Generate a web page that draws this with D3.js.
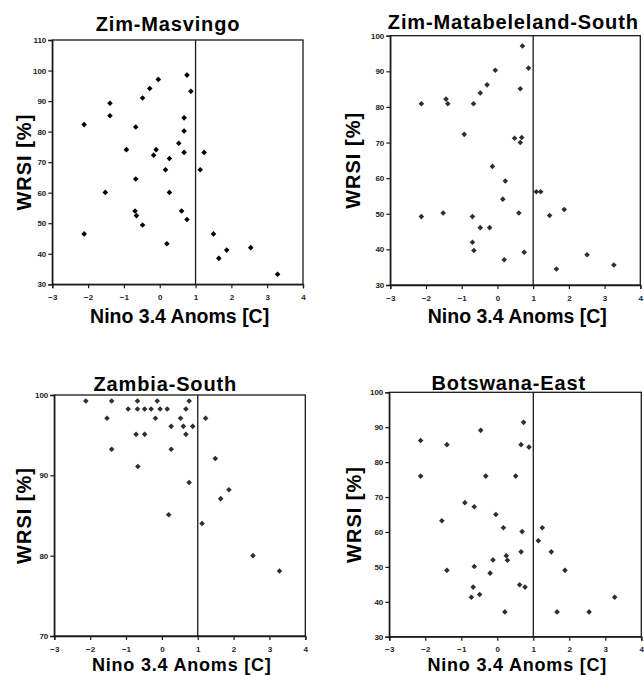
<!DOCTYPE html>
<html>
<head>
<meta charset="utf-8">
<script src="https://cdn.jsdelivr.net/npm/d3@7"></script>
<style>
  body { margin: 0; background: #fff; }
  text { font-family: "Liberation Sans", Arial, sans-serif; }
</style>
</head>
<body>
<div id="chart"></div>
<script>
// x axis ticks shared by every panel
const ninoTicks = [-3, -2, -1, 0, 1, 2, 3, 4];

// Zim-Masvingo
const masvingoNino = [-2.11, -1.39, -1.39, -1.52, -0.93, -0.67, -0.67, -0.48, -0.28, -0.04, -0.10, -0.17, 0.16, 0.27, 0.27, 0.53, 0.68, 0.68, 0.68, 0.76, 0.87, 1.13, 1.24,
  -2.11, -0.69, -0.65, -0.48, 0.20, 0.61, 0.76, 1.50, 1.65, 1.87, 2.54, 3.29];
const masvingoWrsi = [82.3, 89.3, 85.2, 60.1, 74.1, 81.5, 64.5, 91.0, 94.1, 97.1, 74.1, 72.3, 67.5, 71.2, 60.1, 76.2, 84.5, 80.2, 73.2, 98.5, 93.2, 67.5, 73.2,
  46.5, 54.0, 52.5, 49.4, 43.3, 54.0, 51.2, 46.5, 38.5, 41.2, 42.0, 33.3];
const masvingoTicks = [30, 40, 50, 60, 70, 80, 90, 100, 110];

// Zim-Matabeleland-South
const mataNino = [-2.13, -1.44, -1.39, -0.93, -0.67, -0.48, -0.29, -0.06, -0.14, 0.22, 0.15, 0.48, 0.64, 0.64, 0.68, 0.70, 0.87, 1.09, 1.21,
  -2.13, -1.52, -0.70, -0.48, -0.22, -0.70, -0.66, 0.19, 0.60, 0.75, 1.46, 1.87, 1.65, 2.51, 3.26];
const mataWrsi = [80.9, 82.2, 80.9, 72.3, 80.9, 83.9, 86.2, 90.3, 63.3, 59.2, 54.1, 71.2, 85.1, 70.0, 71.4, 97.1, 90.9, 56.2, 56.2,
  49.2, 50.2, 49.2, 46.1, 46.1, 42.0, 39.7, 37.1, 50.2, 39.2, 49.5, 51.2, 34.5, 38.5, 35.6];
const mataTicks = [30, 40, 50, 60, 70, 80, 90, 100];

// Zambia-South
const zambiaNino = [-2.12, -1.40, -0.68, -0.13, 0.76, -0.94, -0.68, -0.48, -0.30, -0.05, 0.15, 0.67, -1.53, -0.18, 0.52, 1.22, 0.26, 0.60, 0.86,
  -0.72, -0.48, 0.67, -1.40, 0.26, 1.49, -0.67, 0.76, 1.87, 1.64, 0.19, 1.12, 2.54, 3.28];
const zambiaWrsi = [99.25, 99.25, 99.25, 99.25, 99.25, 98.25, 98.25, 98.25, 98.25, 98.25, 98.25, 98.25, 97.1, 97.1, 97.1, 97.1, 96.1, 96.1, 96.1,
  95.1, 95.1, 95.1, 93.25, 93.25, 92.1, 91.1, 89.1, 88.2, 87.1, 85.1, 84.0, 80.0, 78.1];
const zambiaTicks = [70, 80, 90, 100];

// Botswana-East
const botswanaNino = [-2.13, -1.40, -0.46, 0.73, 0.66, 0.88, -2.13, -0.32, 0.51, -0.90, -0.64, -0.04, -1.54, 0.17, 0.69, 1.25, 1.14, 0.66,
  1.50, 0.25, 0.28, -0.12, 1.88, -1.40, -0.64, -0.20, 0.62, 0.77, -0.67, -0.72, -0.49, 0.21, 1.66, 2.55, 3.26];
const botswanaWrsi = [86.2, 85.0, 89.1, 91.4, 85.0, 84.3, 76.0, 76.0, 76.0, 68.4, 67.2, 65.0, 63.2, 61.2, 60.1, 61.2, 57.5, 54.3,
  54.3, 53.2, 51.9, 52.0, 49.0, 49.0, 50.1, 48.2, 44.9, 44.2, 44.2, 41.3, 42.1, 37.1, 37.1, 37.1, 41.3];
const botswanaTicks = [30, 40, 50, 60, 70, 80, 90, 100];

// panel layout (plot box in page pixels) + where the texts go
const panels = [
  { title: "Zim-Masvingo", nino: masvingoNino, wrsi: masvingoWrsi, yTicks: masvingoTicks,
    box: [52.3, 40, 303, 284.3], titlePos: [168, 30.5], yLabelX: 24, color: "#000" },
  { title: "Zim-Matabeleland-South", nino: mataNino, wrsi: mataWrsi, yTicks: mataTicks,
    box: [390.3, 35.7, 640.3, 285], titlePos: [513.3, 29], yLabelX: 353, color: "#2e2e2e" },
  { title: "Zambia-South", nino: zambiaNino, wrsi: zambiaWrsi, yTicks: zambiaTicks,
    box: [54.3, 395, 305.3, 636], titlePos: [165.3, 391], yLabelX: 24, color: "#2e2e2e" },
  { title: "Botswana-East", nino: botswanaNino, wrsi: botswanaWrsi, yTicks: botswanaTicks,
    box: [389.3, 392.3, 641.3, 636.7], titlePos: [508.8, 390], yLabelX: 354, color: "#2e2e2e" }
];

const svg = d3.select("#chart")
  .append("svg")
  .attr("width", 644)
  .attr("height", 675);

const axisColor = "#1a1a1a";

function drawPanel(p) {
  const [x0, y0, x1, y1] = p.box;

  const x = d3.scaleLinear()
    .domain([ninoTicks[0], ninoTicks[ninoTicks.length - 1]])
    .range([x0, x1]);
  const y = d3.scaleLinear()
    .domain([p.yTicks[0], p.yTicks[p.yTicks.length - 1]])
    .range([y1, y0]);

  const g = svg.append("g");

  // frame (top and right side)
  g.append("rect")
    .attr("x", x0).attr("y", y0)
    .attr("width", x1 - x0).attr("height", y1 - y0)
    .attr("fill", "none")
    .attr("stroke", axisColor)
    .attr("stroke-width", 1.3);

  // vertical reference line at +1 C
  g.append("line")
    .attr("x1", x(1)).attr("x2", x(1))
    .attr("y1", y0).attr("y2", y1)
    .attr("stroke", axisColor)
    .attr("stroke-width", 1.3);

  // x axis
  const xAxis = g.append("g")
    .attr("transform", `translate(0,${y1})`)
    .call(d3.axisBottom(x).tickValues(ninoTicks).tickSize(4).tickPadding(6).tickFormat(d3.format("d")));

  // y axis
  const yAxis = g.append("g")
    .attr("transform", `translate(${x0},0)`)
    .call(d3.axisLeft(y).tickValues(p.yTicks).tickSize(4).tickPadding(2).tickFormat(d3.format("d")));

  [xAxis, yAxis].forEach(a => {
    a.select(".domain").attr("stroke", axisColor).attr("stroke-width", 1.3);
    a.selectAll(".tick line").attr("stroke", axisColor).attr("stroke-width", 1.2);
    a.selectAll(".tick text")
      .attr("fill", "#222")
      .style("font-size", "8px")
      .style("font-weight", "bold")
      .style("font-family", "'Liberation Sans', Arial, sans-serif");
  });

  // points
  const pts = p.nino.map((n, i) => ({ nino: n, wrsi: p.wrsi[i] }));
  g.selectAll("path.pt")
    .data(pts)
    .join("path")
    .attr("class", "pt")
    .attr("d", d3.symbol().type(d3.symbolDiamond2).size(20))
    .attr("transform", d => `translate(${x(d.nino)},${y(d.wrsi)})`)
    .attr("fill", p.color);

  // title
  g.append("text")
    .attr("x", p.titlePos[0])
    .attr("y", p.titlePos[1])
    .attr("text-anchor", "middle")
    .style("font-size", "20px")
    .style("font-weight", "bold")
    .style("letter-spacing", "0.85px")
    .text(p.title);

  // x label - the bottom row has little room left, so a bit smaller there
  const tight = y1 + 38.3 > 671;
  g.append("text")
    .attr("x", (x0 + x1) / 2 + 2)
    .attr("y", tight ? 671 : y1 + 38.3)
    .attr("text-anchor", "middle")
    .style("font-size", tight ? "18px" : "19.5px")
    .style("letter-spacing", tight ? "0.8px" : "0px")
    .style("font-weight", "bold")
    .text("Nino 3.4 Anoms [C]");

  // y label
  g.append("text")
    .attr("transform", `translate(${p.yLabelX},${(y0 + y1) / 2}) rotate(-90)`)
    .attr("text-anchor", "middle")
    .attr("dy", "0.36em")
    .style("font-size", "20px")
    .style("font-weight", "bold")
    .style("letter-spacing", "1px")
    .text("WRSI [%]");
}

panels.forEach(drawPanel);
</script>
</body>
</html>
